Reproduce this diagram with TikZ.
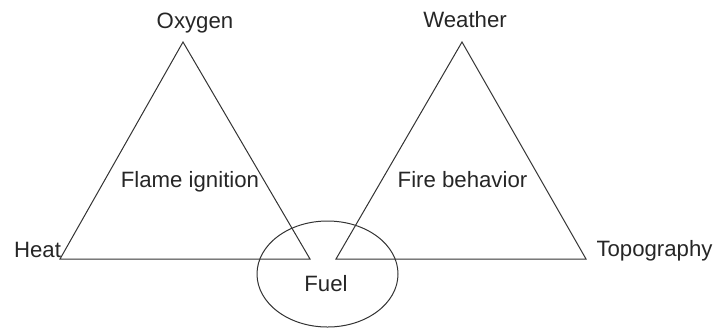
\documentclass[tikz,border=0pt]{standalone}
\usepackage{fontspec}
\setmainfont{Liberation Sans}
\usetikzlibrary{shapes.geometric, positioning}

\begin{document}
\begin{tikzpicture}[
    x=0.5pt, y=-0.5pt,
    every node/.style={font=\fontsize{11.1}{13}\selectfont, text=black!85, inner sep=0pt},
    edge/.style={draw=black!80, line width=0.5pt},
    lbl/.style={anchor=base},
]
    \useasboundingbox (0,0) rectangle (716,328);

    % triangle corners
    \coordinate (oxyTop) at (183,42);
    \coordinate (heatCorner) at (60,259);
    \coordinate (fuelLeft) at (310,259);
    \coordinate (weaTop) at (462,42);
    \coordinate (fuelRight) at (336,259);
    \coordinate (topoCorner) at (586,259);

    \draw[edge] (heatCorner) -- (oxyTop) -- (fuelLeft) -- cycle;
    \draw[edge] (fuelRight) -- (weaTop) -- (topoCorner) -- cycle;

    \node[ellipse, edge, minimum width=70.5pt, minimum height=53pt] (fuelRing) at (327.5,274) {};

    \node[lbl] (oxy) at (195,28) {Oxygen};
    \node[lbl] (wea) at (465,27) {Weather};
    \node[lbl] (heat) at (37.5,257) {Heat};
    \node[lbl] (topo) at (654.5,256) {Topography};
    \node[lbl] (flame) at (190,187) {Flame ignition};
    \node[lbl] (fire) at (462.5,187) {Fire behavior};
    \node[lbl] (fuel) at (326,291) {Fuel};
\end{tikzpicture}
\end{document}
